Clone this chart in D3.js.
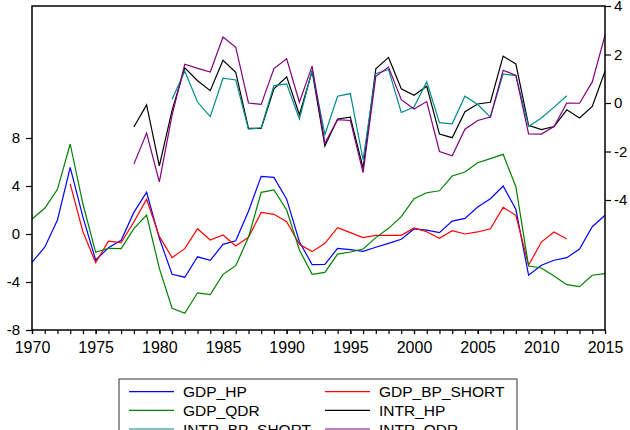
<!DOCTYPE html>
<html>
<head>
<meta charset="utf-8">
<script src="https://cdn.jsdelivr.net/npm/d3@7"></script>
<style>
  html, body { margin: 0; padding: 0; background: #fff; }
  svg { display: block; }
  text { font-family: "Liberation Sans", Arial, sans-serif; fill: #000; }
</style>
</head>
<body>
<svg id="chart" width="630" height="430"></svg>
<script>
const years = d3.range(1970, 2016);

const gdpHP = [-2.36, -1.1, 1.17, 5.55, 1.4, -2.17, -1.15, -0.52, 1.8, 3.48,
  -0.36, -3.36, -3.6, -1.9, -2.2, -0.86, -0.56, 1.9, 4.8, 4.72,
  2.9, -0.64, -2.56, -2.53, -1.2, -1.3, -1.44, -1.1, -0.78, -0.44,
  0.42, 0.33, 0.11, 1.08, 1.3, 2.25, 2.94, 4.0, 2.06, -3.44,
  -2.6, -2.19, -1.97, -1.25, 0.61, 1.56];

const gdpBP = [null, null, null, 4.17, 0.19, -2.39, -0.6, -0.72, 1.0, 2.89,
  -0.2, -1.97, -1.22, 0.44, -0.5, -0.08, -1.0, -0.28, 1.8, 1.64,
  1.03, -0.86, -1.47, -0.78, 0.53, 0.11, -0.3, -0.11, -0.11, -0.11,
  0.5, 0.19, -0.36, 0.28, 0.0, 0.17, 0.44, 2.22, 1.56, -2.6,
  -0.67, 0.17, -0.42, null, null, null];

const gdpQDR = [1.25, 2.14, 3.72, 7.5, 2.5, -1.53, -1.19, -1.22, 0.45, 1.58,
  -2.86, -6.19, -6.6, -4.9, -5.05, -3.36, -2.64, -0.28, 3.47, 3.67,
  2.0, -1.33, -3.36, -3.2, -1.67, -1.5, -1.25, -0.3, 0.47, 1.44,
  2.94, 3.44, 3.6, 4.83, 5.17, 5.94, 6.28, 6.64, 3.94, -2.67,
  -2.83, -3.5, -4.22, -4.39, -3.44, -3.3];

const intrHP = [null, null, null, null, null, null, null, null, -0.99, -0.08,
  -2.59, -0.3, 1.45, 0.92, 0.51, 1.76, 1.27, -1.05, -1.05, 0.58,
  1.08, -0.48, 1.31, -1.77, -0.66, -0.58, -2.69, 1.41, 1.88, 0.59,
  0.32, 0.69, -1.28, -1.43, -0.36, -0.04, 0.03, 1.93, 1.61, -0.92,
  -1.1, -0.97, -0.28, -0.62, -0.14, 1.31];

const intrBP = [null, null, null, null, null, null, null, null, null, null,
  null, 0.15, 1.31, 0.04, -0.56, 1.02, 0.95, -1.08, -1.02, 0.72,
  0.79, -0.66, 1.35, -1.3, 0.28, 0.39, -2.34, 1.21, 1.38, -0.39,
  -0.17, 0.87, -0.81, -0.86, 0.28, -0.06, -0.58, 1.2, 1.13, -0.97,
  -0.62, -0.17, 0.3, null, null, null];

const intrQDR = [null, null, null, null, null, null, null, null, -2.52, -1.24,
  -3.25, -0.5, 1.6, 1.43, 1.28, 2.72, 2.3, 0.0, -0.06, 1.42,
  1.82, 0.03, 1.52, -1.66, -0.69, -0.72, -2.87, 1.1, 1.48, 0.14,
  -0.25, 0.06, -2.0, -2.18, -1.08, -0.72, -0.58, 1.35, 1.14, -1.27,
  -1.28, -0.97, 0.0, -0.01, 0.87, 2.79];

const leftTicks = [-8, -4, 0, 4, 8];
const rightTicks = [-4, -2, 0, 2, 4];
const xLabelTicks = [1970, 1975, 1980, 1985, 1990, 1995, 2000, 2005, 2010, 2015];

const seriesNames = ["GDP_HP", "GDP_BP_SHORT", "GDP_QDR", "INTR_HP", "INTR_BP_SHORT", "INTR_QDR"];
const seriesData = [gdpHP, gdpBP, gdpQDR, intrHP, intrBP, intrQDR];
const seriesAxis = ["left", "left", "left", "right", "right", "right"];
const seriesColors = ["#0000ff", "#ff0000", "#008000", "#000000", "#008b8b", "#800080"];

const svg = d3.select("#chart");
const plot = { left: 32, right: 605, top: 6, bottom: 330 };

const x = d3.scaleLinear().domain([1970, 2015]).range([plot.left, plot.right]);
const yL = d3.scaleLinear().domain([-8, 19]).range([plot.bottom, plot.top]);
const yR = d3.scaleLinear().domain([-9.36, 4]).range([plot.bottom, plot.top]);

// series lines
seriesData.forEach((vals, i) => {
  const ys = seriesAxis[i] === "left" ? yL : yR;
  const line = d3.line()
    .defined(d => d.v !== null)
    .x(d => x(d.year))
    .y(d => ys(d.v));
  svg.append("path")
    .datum(years.map((yr, j) => ({ year: yr, v: vals[j] })))
    .attr("fill", "none")
    .attr("stroke", seriesColors[i])
    .attr("stroke-width", 1.2)
    .attr("stroke-linejoin", "miter")
    .attr("d", line);
});

// frame
svg.append("rect")
  .attr("x", plot.left).attr("y", plot.top)
  .attr("width", plot.right - plot.left).attr("height", plot.bottom - plot.top)
  .attr("fill", "none").attr("stroke", "#000").attr("stroke-width", 1.5);

// left axis
const gL = svg.append("g").attr("transform", `translate(${plot.left},0)`)
  .call(d3.axisLeft(yL).tickValues(leftTicks).tickSize(6).tickPadding(6).tickFormat(d3.format("d")));
// right axis
const gR = svg.append("g").attr("transform", `translate(${plot.right},0)`)
  .call(d3.axisRight(yR).tickValues(rightTicks).tickSize(6).tickPadding(3).tickFormat(d3.format("d")));
// bottom axis: minor year ticks
const gBm = svg.append("g").attr("transform", `translate(0,${plot.bottom})`)
  .call(d3.axisBottom(x).tickValues(years).tickSize(4).tickFormat(""));
const gB = svg.append("g").attr("transform", `translate(0,${plot.bottom})`)
  .call(d3.axisBottom(x).tickValues(xLabelTicks).tickSize(4).tickPadding(8).tickFormat(d3.format("d")));

[gL, gR, gBm, gB].forEach(g => {
  g.select(".domain").remove();
  g.selectAll(".tick line").attr("stroke", "#000").attr("stroke-width", 1.2);
  g.selectAll("text").attr("font-family", "Liberation Sans, Arial, sans-serif").attr("fill", "#000");
});
gL.selectAll("text").attr("font-size", 15);
gR.selectAll("text").attr("font-size", 15);
gB.selectAll("text").attr("font-size", 16);
// re-minus format (hyphen as in original)
gL.selectAll("text").text(d => String(d));
gR.selectAll("text").text(d => String(d));

// legend
const legend = svg.append("g");
legend.append("rect")
  .attr("x", 119).attr("y", 379).attr("width", 398).attr("height", 80)
  .attr("fill", "#fff").attr("stroke", "#333").attr("stroke-width", 1);
const colX = [129, 325];
const rowY = [391.7, 410.3, 429];
seriesNames.forEach((name, i) => {
  const cx = colX[i % 2];
  const ry = rowY[Math.floor(i / 2)];
  legend.append("line")
    .attr("x1", cx).attr("x2", cx + 45)
    .attr("y1", ry).attr("y2", ry)
    .attr("stroke", seriesColors[i]).attr("stroke-width", 1.2);
  legend.append("text")
    .attr("x", cx + 54).attr("y", ry + 5.5)
    .attr("font-size", 15.5)
    .text(name);
});
</script>
</body>
</html>
